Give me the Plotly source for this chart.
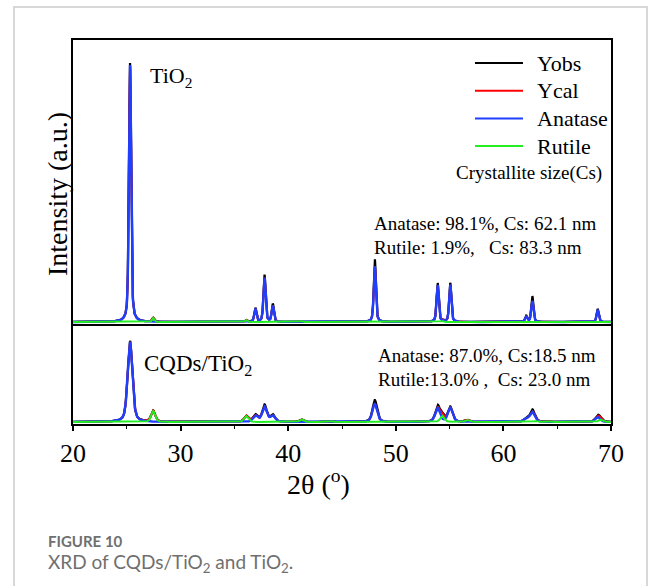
import numpy as np
import plotly.graph_objects as go
from plotly.subplots import make_subplots

# ---------------- data ----------------
ANATASE_POS = [25.30, 36.95, 37.80, 38.57, 48.05, 53.89, 55.06, 62.12, 62.69, 68.76]

# TiO2 (upper panel)
TIO2_ANATASE_INT = [257, 13, 44, 16, 56, 37, 37, 5, 21, 12]
TIO2_YOBS_EXTRA = [2, 1, 3, 2, 7, 2, 2, 1, 5, 1]
TIO2_RUTILE_POS = [27.45, 36.09, 41.23, 54.32]
TIO2_RUTILE_INT = [4, 2, 1, 1]
TIO2_FWHM_ANATASE = 0.24
TIO2_FWHM_RUTILE = 0.24

# CQDs/TiO2 (lower panel)
CQD_ANATASE_INT = [80, 6, 15, 6, 18, 14, 14, 3, 10, 5]
CQD_YOBS_EXTRA = [1, 1, 2, 1, 4, 2, 1, 0, 2, 1]
CQD_RUTILE_POS = [27.45, 36.09, 41.23, 44.05, 54.32, 56.64, 62.99, 64.04, 69.01]
CQD_RUTILE_INT = [11, 6, 2.5, 0.8, 6, 2, 1, 1, 2.5]
CQD_FWHM_ANATASE = 0.52
CQD_FWHM_RUTILE = 0.45

X_TICKS = [20, 30, 40, 50, 60, 70]
SERIES = ["Yobs", "Ycal", "Anatase", "Rutile"]
COLORS = {"Yobs": "#000000", "Ycal": "#ff0000", "Anatase": "#1f3fff", "Rutile": "#22ee22"}
WIDTHS = {"Yobs": 2.2, "Ycal": 2.0, "Anatase": 2.4, "Rutile": 2.0}

# ---------------- profiles ----------------
tt = np.arange(20.0, 70.0001, 0.02)


def pv(pos, amp, fwhm, eta=0.45):
    out = np.zeros_like(tt)
    for p, a in zip(pos, amp):
        d = (tt - p) / (fwhm / 2)
        out += a * (eta / (1 + d ** 2) + (1 - eta) * np.exp(-np.log(2) * d ** 2))
    return out


def panel(an_int, extra, ru_pos, ru_int, fa, fr):
    ana = pv(ANATASE_POS, an_int, fa)
    ru = pv(ru_pos, ru_int, fr)
    ycal = ana + ru
    yobs = ycal + pv(ANATASE_POS, extra, fa * 0.8)
    return {"Yobs": yobs, "Ycal": ycal, "Anatase": ana, "Rutile": ru}


top = panel(TIO2_ANATASE_INT, TIO2_YOBS_EXTRA, TIO2_RUTILE_POS, TIO2_RUTILE_INT,
            TIO2_FWHM_ANATASE, TIO2_FWHM_RUTILE)
bot = panel(CQD_ANATASE_INT, CQD_YOBS_EXTRA, CQD_RUTILE_POS, CQD_RUTILE_INT,
            CQD_FWHM_ANATASE, CQD_FWHM_RUTILE)

# ---------------- figure ----------------
W, H = 656, 586
L, R, T, B = 73, 611, 40, 424
SPLIT = 324


def px(x):
    return (x - L) / (R - L)


def py(y):
    return (B - y) / (B - T)


fig = make_subplots(rows=2, cols=1, shared_xaxes=True, vertical_spacing=0)
for name in SERIES:
    fig.add_trace(go.Scatter(x=tt, y=top[name], mode="lines", name=name,
                             line=dict(color=COLORS[name], width=WIDTHS[name]),
                             showlegend=False), row=1, col=1)
for name in SERIES:
    fig.add_trace(go.Scatter(x=tt, y=bot[name], mode="lines", name=name,
                             line=dict(color=COLORS[name], width=WIDTHS[name]),
                             showlegend=False), row=2, col=1)

serif = "Liberation Serif"
split_frac = (B - SPLIT) / (B - T)

fig.update_layout(
    width=W, height=H, autosize=False,
    margin=dict(l=L, r=W - R, t=T, b=H - B),
    paper_bgcolor="white", plot_bgcolor="white",
    font=dict(family=serif, color="black"),
    showlegend=False,
)

fig.update_yaxes(domain=[split_frac, 1], range=[-2, 282], row=1, col=1)
fig.update_yaxes(domain=[0, split_frac], range=[-2, 98], row=2, col=1)
fig.update_yaxes(showline=True, linecolor="black", linewidth=2, mirror=True,
                 showgrid=False, zeroline=False, showticklabels=False, ticks="")
fig.update_xaxes(range=[20, 70], showline=True, linecolor="black", linewidth=2,
                 showgrid=False, zeroline=False)
fig.update_xaxes(showticklabels=False, ticks="", mirror=True, row=1, col=1)
fig.update_xaxes(tickvals=X_TICKS, ticktext=[str(v) for v in X_TICKS], mirror=False,
                 ticks="outside", ticklen=5, tickwidth=1.5, tickcolor="black",
                 tickfont=dict(family=serif, size=26, color="black"),
                 minor=dict(dtick=5, tick0=20, ticks="outside", ticklen=3,
                            tickwidth=1.2, tickcolor="black"),
                 row=2, col=1)

ann = []
shapes = []


def text(x, y, s, size, xanchor="left", **kw):
    ann.append(dict(x=px(x), y=py(y), xref="paper", yref="paper", text=s,
                    showarrow=False, xanchor=xanchor, yanchor="middle",
                    font=dict(family=kw.pop("family", serif), size=size,
                              color=kw.pop("color", "black")), **kw))


# legend (drawn by hand to match the long sample lines)
for i, name in enumerate(SERIES):
    yy = 63 + i * 27.7
    shapes.append(dict(type="line", xref="paper", yref="paper",
                       x0=px(475), x1=px(523), y0=py(yy), y1=py(yy),
                       line=dict(color=COLORS[name], width=2)))
    text(535, yy, name, 22)

text(148, 77, "TiO<sub>2</sub>", 22)
text(142, 365, "CQDs/TiO<sub>2</sub>", 23)
text(604, 173, "Crystallite size(Cs)", 19, xanchor="right")
text(372, 223, "Anatase: 98.1%, Cs: 62.1 nm", 19)
text(372, 247, "Rutile: 1.9%,   Cs: 83.3 nm", 19)
text(376, 355, "Anatase: 87.0%, Cs:18.5 nm", 19)
text(376, 379, "Rutile:13.0% ,  Cs: 23.0 nm", 19)
text(318, 482, "2θ (<sup>o</sup>)", 28, xanchor="center")
ann.append(dict(x=px(57), y=py(194), xref="paper", yref="paper",
                text="Intensity (a.u.)", showarrow=False, textangle=-90,
                xanchor="center", yanchor="middle",
                font=dict(family=serif, size=28, color="black")))
text(46, 541, "<b>FIGURE 10</b>", 15, family="Lato", color="#6f6f6f")
text(46, 563, "XRD of CQDs/TiO<sub>2</sub> and TiO<sub>2</sub>.", 19,
     family="Lato", color="#6f6f6f")

# card border
shapes.append(dict(type="path", xref="paper", yref="paper",
                   path=f"M {px(14)} {py(600)} L {px(14)} {py(7)} L {px(647)} {py(7)} L {px(647)} {py(600)}",
                   line=dict(color="#cccccc", width=1.5), layer="below"))
fig.update_layout(annotations=ann, shapes=shapes)

fig.write_html("out.html")
